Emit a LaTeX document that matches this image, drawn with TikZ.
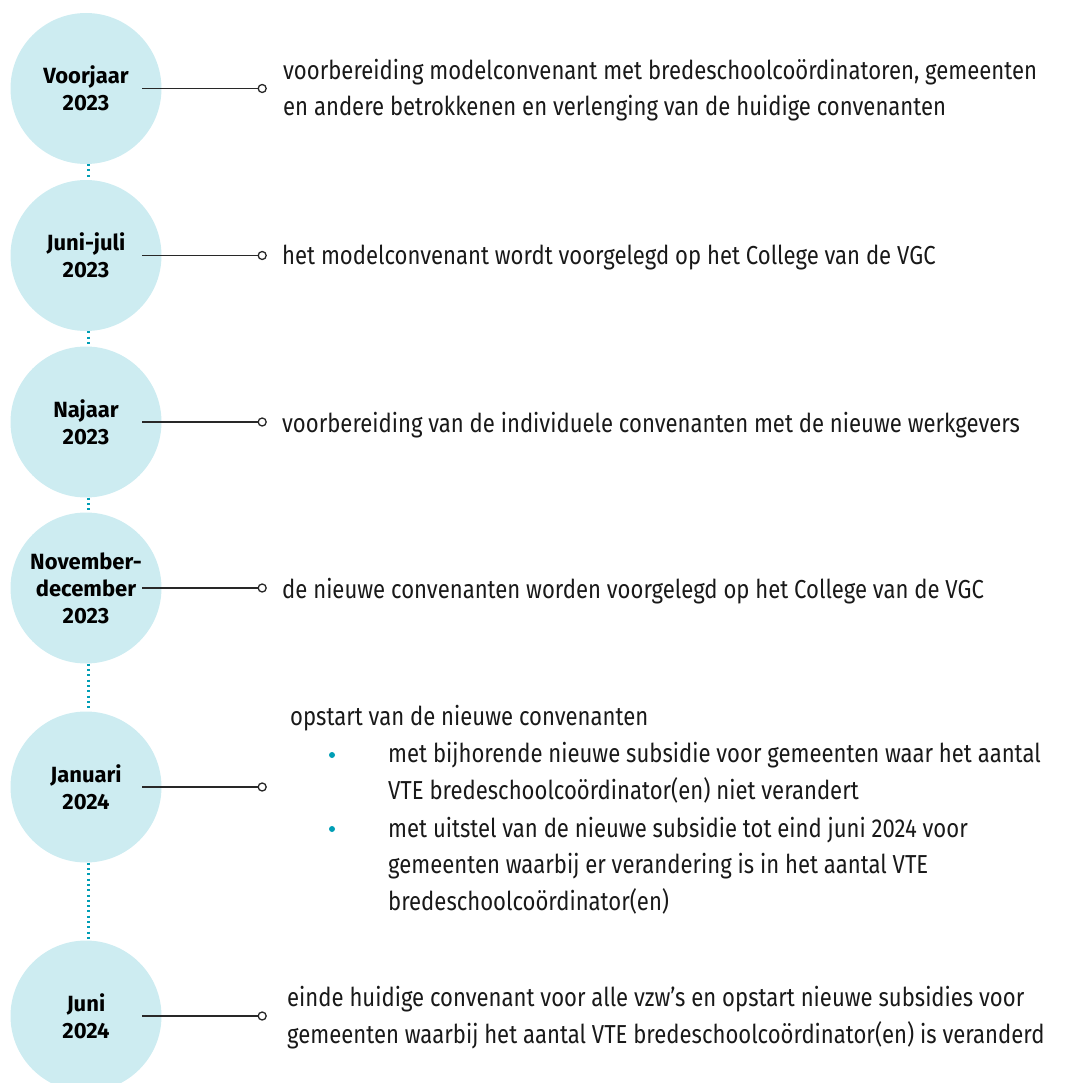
\documentclass[tikz,border=0pt]{standalone}
\usepackage{fontspec}
\setmainfont{Fira Sans}[FakeStretch=0.85]
\newfontfamily\stagefont{Fira Sans}
\usetikzlibrary{positioning}
\definecolor{circfill}{RGB}{205,236,241}
\definecolor{dotteal}{RGB}{0,158,181}
\definecolor{linegray}{RGB}{40,40,40}
\definecolor{inktext}{RGB}{25,25,25}
\tikzset{
  stagecirc/.style={circle, fill=circfill, minimum size=151pt, inner sep=0pt, align=center,
    text=black, font=\stagefont\fontsize{22}{27}\selectfont\bfseries},
  stagetext/.style={anchor=base west, align=left, inner sep=0pt, text=inktext,
    font=\fontsize{26}{36.5}\selectfont},
  stubline/.style={draw=linegray, line width=1.8pt},
  endring/.style={circle, draw=linegray, fill=white, line width=1.3pt, minimum size=8pt, inner sep=0pt},
  dotlink/.style={draw=dotteal, line width=2.2pt, dash pattern=on 2pt off 3.3pt},
  bulletdot/.style={circle, fill=dotteal, minimum size=6pt, inner sep=0pt}
}
\newcommand{\stage}[3]{\node[stagecirc] (c#1) at (86,#2) {#3};}
\newcommand{\stub}[1]{\coordinate (s#1) at ([xshift=-19.5pt]c#1.east);
  \node[endring] (e#1) at ([xshift=100.5pt]c#1.east) {};
  \draw[stubline] (s#1) -- (e#1);}

\begin{document}
\begin{tikzpicture}[x=1pt, y=-1pt]
        \useasboundingbox (0,0) rectangle (1067,1083);
        \clip (0,0) rectangle (1067,1083);
        % circles
        \stage{1}{88.5}{Voorjaar\\2023}
        \stage{2}{255.5}{Juni-juli\\2023}
        \stage{3}{422}{Najaar\\2023}
        \stage{4}{588}{November-\\december\\2023}
        \stage{5}{787}{Januari\\2024}
        \stage{6}{1016}{Juni\\2024}
        % dotted links
        \draw[dotlink] ([xshift=2.5pt]c1.south) -- ([xshift=2.5pt]c2.north);
        \draw[dotlink] ([xshift=2.5pt]c2.south) -- ([xshift=2.5pt]c3.north);
        \draw[dotlink] ([xshift=2.5pt]c3.south) -- ([xshift=2.5pt]c4.north);
        \draw[dotlink] ([xshift=2.5pt]c4.south) -- ([xshift=2.5pt]c5.north);
        \draw[dotlink] ([xshift=2.5pt]c5.south) -- ([xshift=2.5pt]c6.north);
        % stubs
        \stub{1}
        \stub{2}
        \stub{3}
        \stub{4}
        \stub{5}
        \stub{6}
        % texts (base = last line)
        \node[stagetext] (t1) at (283,116) {voorbereiding modelconvenant met bredeschoolcoördinatoren, gemeenten\\en andere betrokkenen en verlenging van de huidige convenanten};
        \node[stagetext] (t2) at (282,265) {het modelconvenant wordt voorgelegd op het College van de VGC};
        \node[stagetext] (t3) at (282,432) {voorbereiding van de individuele convenanten met de nieuwe werkgevers};
        \node[stagetext] (t4) at (282,598) {de nieuwe convenanten worden voorgelegd op het College van de VGC};
        \node[stagetext] (t5) at (290,725) {opstart van de nieuwe convenanten};
        \node[bulletdot] (d1) at (332,755) {};
        \node[stagetext] (u1) at (388,799) {met bijhorende nieuwe subsidie voor gemeenten waar het aantal\\VTE bredeschoolcoördinator(en) niet verandert};
        \node[bulletdot] (d2) at (332,829) {};
        \node[stagetext] (u2) at (388,910) {met uitstel van de nieuwe subsidie tot eind juni 2024 voor\\gemeenten waarbij er verandering is in het aantal VTE\\bredeschoolcoördinator(en)};
        \node[stagetext] (t6) at (287,1043) {einde huidige convenant voor alle vzw’s en opstart nieuwe subsidies voor\\gemeenten waarbij het aantal VTE bredeschoolcoördinator(en) is veranderd};
\end{tikzpicture}
\end{document}
